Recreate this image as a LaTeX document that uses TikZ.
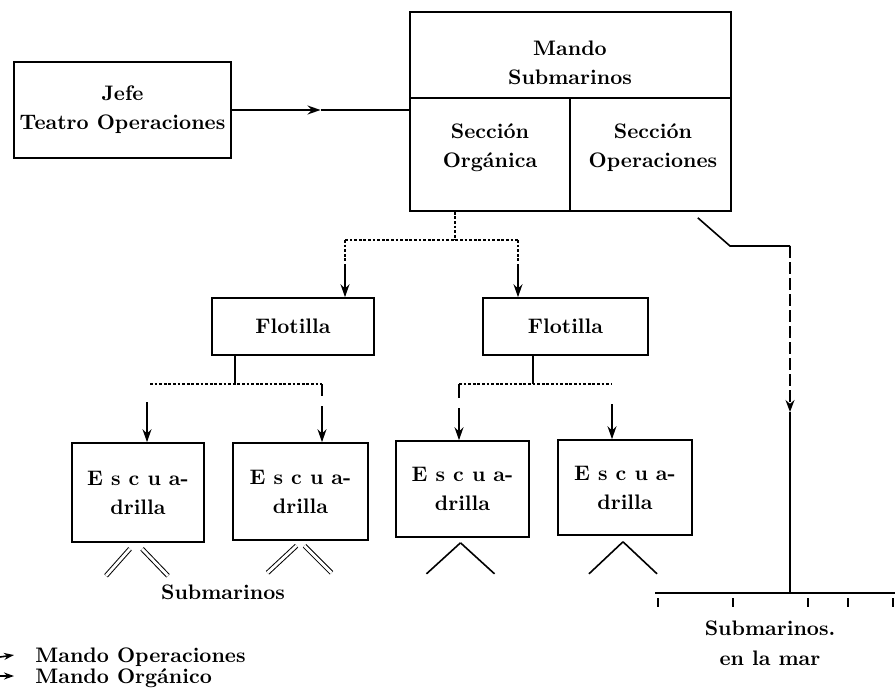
\documentclass[tikz,border=0pt]{standalone}
\usetikzlibrary{arrows.meta,calc}
\begin{document}
\begin{tikzpicture}[x=0.5pt,y=-0.5pt,
  every node/.style={font=\bfseries\fontsize{10.5}{14.5}\selectfont, text=black},
  box/.style={draw, line width=0.8pt, inner sep=0pt, align=center},
  ln/.style={line width=0.8pt},
  dots/.style={line width=0.8pt, dash pattern=on 1.4pt off 0.9pt},
  arr/.style={ln, -{Stealth[length=6.5pt,width=4.5pt]}},
  dbl/.style={double, double distance=1.4pt, line width=0.5pt},
  lbl/.style={align=center, inner sep=0pt},
]
\useasboundingbox (0,0) rectangle (895,696);

% boxes
\node[box, minimum width=108.5pt, minimum height=48pt] (jefe) at (122.5,110) {Jefe\\Teatro Operaciones};
\node[box, minimum width=160.5pt, minimum height=99.5pt] (mando) at (570.5,111.5) {};
\node[lbl] (mt) at (570,63) {Mando\\Submarinos};
\coordinate (divy) at (0,98);
\coordinate (divx) at (570,0);
\draw[ln] (mando.west |- divy) -- (mando.east |- divy);
\draw[ln] (divx |- divy) -- (divx |- mando.south);
\node[lbl] (sorg) at (490,148) {Sección\\Orgánica};
\node[lbl] (sop) at (653,148) {Sección\\Operaciones};

\node[box, minimum width=81pt, minimum height=28.5pt] (f1) at (293,326.5) {Flotilla};
\node[box, minimum width=82.5pt, minimum height=28.5pt] (f2) at (565.5,326.5) {Flotilla};

\node[box, minimum width=66pt, minimum height=49.5pt] (e1) at (138,492.5) {E s c u a-\\drilla};
\node[box, minimum width=67.5pt, minimum height=48.5pt] (e2) at (300.5,491.5) {E s c u a-\\drilla};
\node[box, minimum width=66.5pt, minimum height=48pt] (e3) at (462.5,489) {E s c u a-\\drilla};
\node[box, minimum width=67pt, minimum height=47.5pt] (e4) at (625,487.5) {E s c u a-\\drilla};

% Jefe -> Mando
\coordinate (jm) at ($(jefe.east)!0.5!(jefe.east -| mando.west)$);
\draw[arr] (jefe.east) -- (jm);
\draw[ln] (jm) -- (jefe.east -| mando.west);

% Mando -> Flotillas (dotted)
\coordinate (o0) at (455,240);
\coordinate (oL) at (345,240);
\coordinate (oR) at (518,240);
\draw[dots] (o0 |- mando.south) -- (o0);
\draw[dots] (oL) -- (oR);
\draw[dots] (oL) -- ++(0,22);
\draw[dots] (oR) -- ++(0,22);
\draw[arr] ($(oL)+(0,24)$) -- (oL |- f1.north);
\draw[arr] ($(oR)+(0,24)$) -- (oR |- f2.north);

% Flotilla 1 -> Escuadrillas
\coordinate (p1) at (235,384);
\coordinate (q1L) at (147,384);
\coordinate (q1R) at (322,384);
\draw[ln] (p1 |- f1.south) -- (p1);
\draw[dots] ($(q1L)+(3,0)$) -- (q1R);
\draw[arr] ($(q1L)+(0,18)$) -- (q1L |- e1.north);
\draw[ln] (q1R) -- ++(0,12);
\draw[arr] ($(q1R)+(0,22)$) -- (q1R |- e2.north);

% Flotilla 2 -> Escuadrillas
\coordinate (p2) at (533,384);
\coordinate (q2L) at (459,384);
\coordinate (q2R) at (612,384);
\draw[ln] (p2 |- f2.south) -- (p2);
\draw[dots] (q2L) -- (q2R);
\draw[ln] (q2L) -- ++(0,14);
\draw[arr] ($(q2L)+(0,24)$) -- (q2L |- e3.north);
\draw[arr] ($(q2R)+(0,20)$) -- (q2R |- e4.north);

% submarines under escuadrillas
\draw[dbl] ($(e1.south)+(-8,6)$) -- ++(-24,27);
\draw[dbl] ($(e1.south)+(4,6)$) -- ++(26,27);
\draw[dbl] ($(e2.south)+(-4,5)$) -- ++(-29,27);
\draw[dbl] ($(e2.south)+(4,5)$) -- ++(27,27);
\draw[ln] ($(e3.south)+(-2,5)$) -- ++(-34,31);
\draw[ln] ($(e3.south)+(-2,5)$) -- ++(34,31);
\draw[ln] ($(e4.south)+(-2,6)$) -- ++(-34,32);
\draw[ln] ($(e4.south)+(-2,6)$) -- ++(34,32);
\node[lbl] (subs) at (223,592) {Submarinos};

% Operaciones branch
\coordinate (r0) at ($(mando.south east)+(-34,6)$);
\coordinate (r1) at (730,246);
\coordinate (r2) at (790,246);
\coordinate (r3) at (790,412);
\coordinate (b0) at (655,593);
\coordinate (b1) at (895,593);
\draw[ln] (r0) -- (r1) -- (r2);
\draw[line width=0.7pt, dash pattern=on 6pt off 2pt, -{Stealth[length=6pt,width=4.5pt]}] (r2) -- (r3);
\draw[ln] (r3) -- (r3 |- b0);
\draw[ln] (b0) -- (b1);
\foreach \tx in {658,733,808,848,893} {\draw[ln] (\tx,598) -- (\tx,607);}
\node[lbl] (mar) at (770,643) {Submarinos.\\[0.5pt]en la mar};

% legend
\coordinate (l1a) at (0,657);
\coordinate (l1b) at (14,655);
\coordinate (l2a) at (0,676);
\coordinate (l2b) at (14,676);
\draw[ln, -{Stealth[length=5pt,width=3.5pt]}] (l1a) -- (l1b);
\draw[ln, -{Stealth[length=5pt,width=3.5pt]}] (l2a) -- (l2b);
\node[anchor=west, inner sep=0pt] (leg1) at (35,657) {Mando Operaciones};
\node[anchor=west, inner sep=0pt] (leg2) at (35,678) {Mando Orgánico};
\end{tikzpicture}
\end{document}
